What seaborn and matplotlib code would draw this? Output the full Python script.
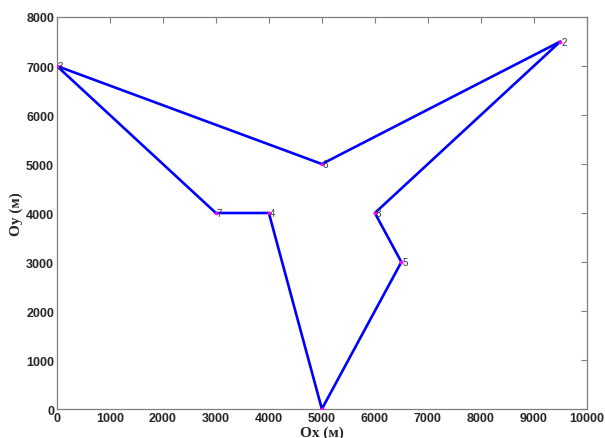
import numpy as np
import pandas as pd
import matplotlib
matplotlib.use('Agg')
import matplotlib.pyplot as plt
import seaborn as sns

# route through the numbered points (closed loop)
point_ids = [1, 5, 8, 2, 6, 3, 7, 4, 1]
x_m = [5000, 6500, 6000, 9500, 5000, 0, 3000, 4000, 5000]
y_m = [0, 3000, 4000, 7500, 5000, 7000, 4000, 4000, 0]

x_ticks = [0, 1000, 2000, 3000, 4000, 5000, 6000, 7000, 8000, 9000, 10000]
y_ticks = [0, 1000, 2000, 3000, 4000, 5000, 6000, 7000, 8000]

df = pd.DataFrame({'id': point_ids, 'x': x_m, 'y': y_m})

sns.set_style('white')
plt.rcParams['font.family'] = ['Liberation Sans', 'DejaVu Sans']

fig = plt.figure(figsize=(6.05, 4.39), dpi=100, facecolor='white')
ax = fig.add_axes([0.094, 0.066, 0.876, 0.893])

sns.lineplot(data=df, x='x', y='y', sort=False, estimator=None,
             color='#0000FF', linewidth=1.9, ax=ax)
ax.scatter(df['x'], df['y'], s=7, color='#FF00FF', zorder=3, linewidths=0)

# point 1 sits on the x axis, its label is hidden under the tick labels
for _, r in df.iloc[1:-1].iterrows():
    ax.text(r['x'] + 20, r['y'], str(r['id']), fontsize=7, color='#333333',
            ha='left', va='center', zorder=4)

ax.set_xlim(0, 10000)
ax.set_ylim(0, 8000)
ax.set_xticks(x_ticks)
ax.set_yticks(y_ticks)
ax.tick_params(direction='in', length=4, width=0.8, color='#7f7f7f',
               top=True, right=True, labelsize=9, pad=2)
for lbl in ax.get_xticklabels() + ax.get_yticklabels():
    lbl.set_fontweight('bold')
for spine in ax.spines.values():
    spine.set_edgecolor('#7f7f7f')
    spine.set_linewidth(0.9)

ax.set_xlabel('Ox (м)', family='Liberation Serif', fontweight='bold',
              fontsize=11, labelpad=1)
ax.set_ylabel('Oy (м)', family='Liberation Serif', fontweight='bold',
              fontsize=11, labelpad=2)

fig.savefig('out.png', dpi=100, facecolor='white')
